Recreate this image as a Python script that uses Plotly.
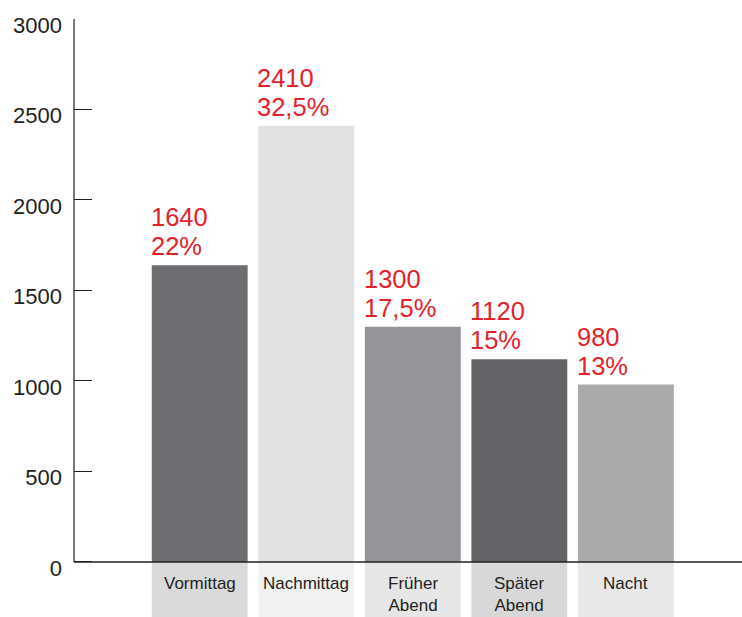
import plotly.graph_objects as go

# ---- data ----
categories = ["Vormittag", "Nachmittag", "Früher\nAbend", "Später\nAbend", "Nacht"]
values = [1640, 2410, 1300, 1120, 980]
shares = ["22%", "32,5%", "17,5%", "15%", "13%"]
y_ticks = [0, 500, 1000, 1500, 2000, 2500, 3000]

# ---- styles ----
bar_colors = ["#6d6e71", "#e0e1e3", "#939598", "#636467", "#a9aaac"]
box_colors = ["#d9dada", "#f0f1f1", "#e6e6e6", "#d8d8d8", "#e8e8e8"]
red = "#e3222a"
ink = "#231f20"
font_family = "Liberation Sans, Arial, Helvetica, sans-serif"

y_min = -304
y_max = 3000
bar_w = 0.9
xpos = list(range(len(categories)))

fig = go.Figure()

# label boxes below the baseline
fig.add_trace(go.Bar(
    x=xpos, y=[-y_min] * len(xpos), base=[y_min] * len(xpos),
    width=bar_w, marker=dict(color=box_colors, line=dict(width=0)),
    hoverinfo="skip", showlegend=False,
))
# value bars
fig.add_trace(go.Bar(
    x=xpos, y=values, width=bar_w,
    marker=dict(color=bar_colors, line=dict(width=0)),
    showlegend=False,
))

annotations = []
for i, (v, s) in enumerate(zip(values, shares)):
    annotations.append(dict(
        x=i - bar_w / 2, y=v, xref="x", yref="y", text=str(v),
        xanchor="left", yanchor="bottom", showarrow=False,
        xshift=-3, yshift=32, font=dict(size=25.5, color=red, family=font_family),
    ))
    annotations.append(dict(
        x=i - bar_w / 2, y=v, xref="x", yref="y", text=s,
        xanchor="left", yanchor="bottom", showarrow=False,
        xshift=-3, yshift=3, font=dict(size=25.5, color=red, family=font_family),
    ))

for i, cat in enumerate(categories):
    annotations.append(dict(
        x=i, y=0, xref="x", yref="y", text="<br>".join(cat.split("\n")),
        xanchor="center", yanchor="top", showarrow=False, align="center",
        yshift=-10, font=dict(size=17, color=ink, family=font_family),
    ))

shapes = [
    dict(type="line", xref="paper", yref="y", x0=0, x1=0, y0=0, y1=y_max,
         line=dict(color=ink, width=1.2), layer="above"),
    dict(type="line", xref="paper", yref="y", x0=0, x1=1, y0=0, y1=0,
         line=dict(color=ink, width=1.5), layer="above"),
]

fig.update_layout(
    width=742, height=617,
    margin=dict(l=74, r=0, t=19, b=0, pad=0),
    paper_bgcolor="white", plot_bgcolor="white",
    barmode="overlay",
    showlegend=False,
    annotations=annotations,
    shapes=shapes,
    font=dict(family=font_family, color=ink),
    xaxis=dict(range=[-1.18, 5.09], visible=False, fixedrange=True),
    yaxis=dict(
        range=[y_min, y_max], tickvals=y_ticks, ticktext=[str(t) for t in y_ticks],
        ticks="inside", ticklen=18, tickwidth=1.2, tickcolor=ink,
        showgrid=False, zeroline=False, showline=False,
        tickfont=dict(size=22, color=ink, family=font_family),
        ticklabelshift=6, ticklabelstandoff=11,
    ),
)

fig.write_html("out.html")
